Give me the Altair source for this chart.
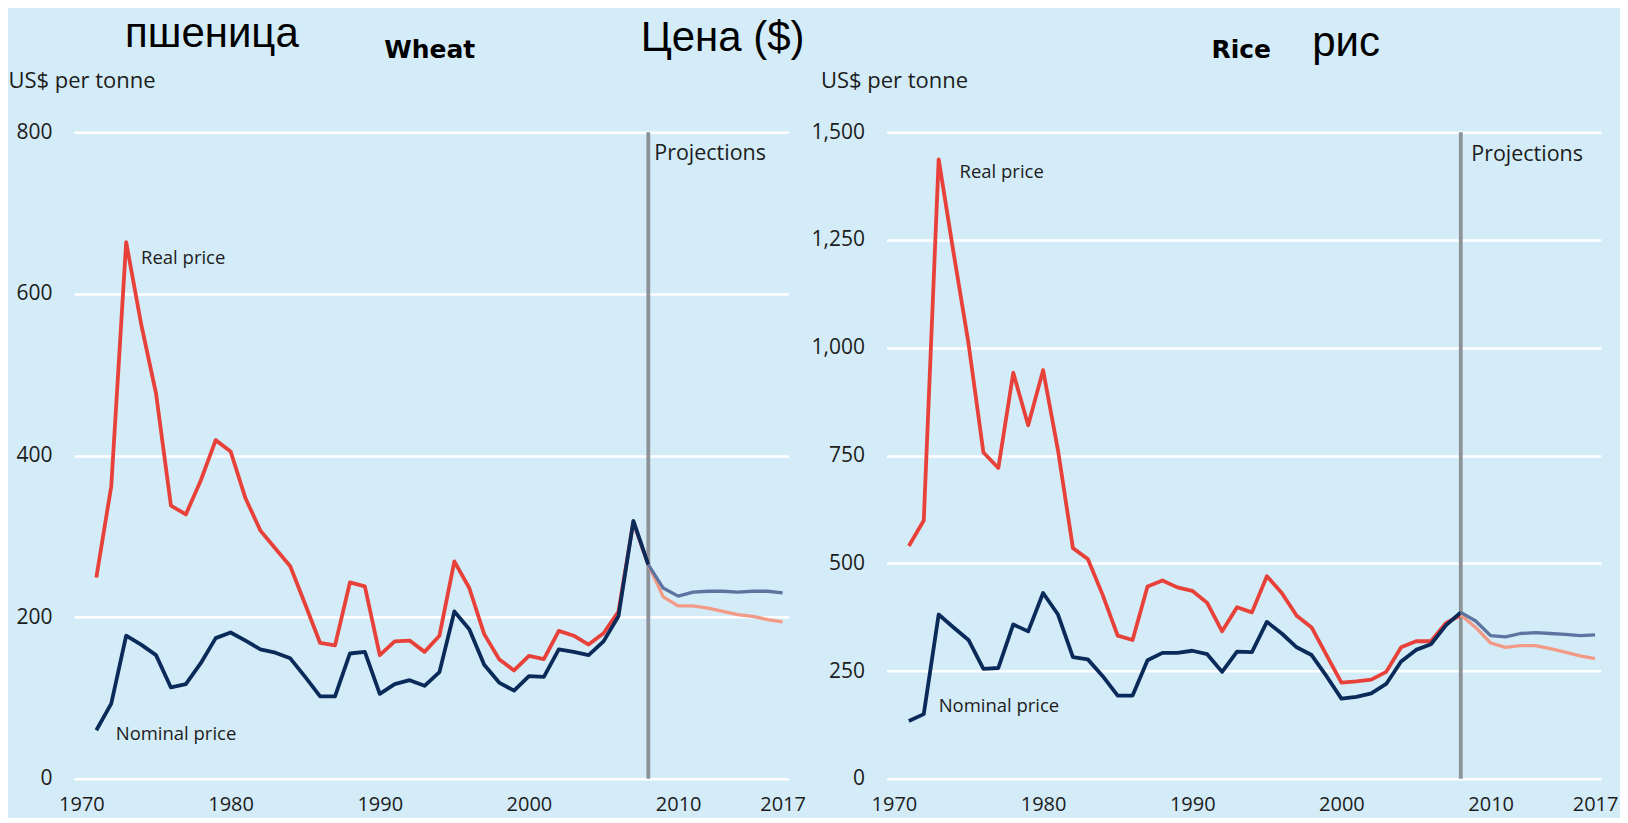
import altair as alt
import pandas as pd

# ---------------- data ----------------
YEARS_HIST = list(range(1971, 2009))
YEARS_PROJ = list(range(2008, 2018))
X_TICKS = [1970, 1980, 1990, 2000, 2010, 2017]

WHEAT_REAL_HIST = [249, 362, 664, 563, 477, 338, 327, 369, 419, 405,
                   347, 307, 285, 263, 216, 168, 165, 243, 238, 153,
                   170, 171, 157, 177, 269, 236, 179, 148, 134, 152,
                   148, 183, 177, 166, 180, 207, 318, 265]
WHEAT_NOM_HIST = [60, 93, 177, 166, 153, 113, 117, 143, 174, 181,
                  171, 160, 156, 149, 126, 102, 102, 155, 157, 105,
                  117, 122, 115, 132, 207, 185, 141, 119, 109, 127,
                  126, 160, 157, 153, 170, 201, 319, 265]
WHEAT_REAL_PROJ = [265, 225, 214, 214, 211, 207, 203, 201, 197, 194]
WHEAT_NOM_PROJ = [265, 236, 226, 231, 232, 232, 231, 232, 232, 230]
WHEAT_TICKS = [0, 200, 400, 600, 800]

RICE_REAL_HIST = [540, 599, 1437, 1220, 1010, 757, 721, 942, 820, 948,
                  762, 535, 510, 426, 332, 322, 446, 460, 444, 436,
                  408, 342, 398, 386, 470, 431, 378, 351, 287, 223,
                  226, 230, 248, 305, 319, 319, 361, 380]
RICE_NOM_HIST = [134, 150, 381, 351, 322, 255, 257, 358, 342, 431,
                 381, 282, 277, 238, 193, 193, 275, 292, 292, 297,
                 289, 248, 295, 294, 364, 337, 305, 287, 238, 186,
                 190, 198, 220, 272, 299, 312, 356, 386]
RICE_REAL_PROJ = [380, 351, 315, 305, 309, 309, 302, 294, 285, 279]
RICE_NOM_PROJ = [386, 366, 332, 329, 337, 339, 337, 335, 332, 334]
RICE_TICKS = [0, 250, 500, 750, 1000, 1250, 1500]

PROJ_START = 2008
Y_TITLE = "US$ per tonne"

# annotation labels: (year, value, text)
WHEAT_NOTES = [(1974.0, 644, "Real price"), (1972.3, 55, "Nominal price")]
WHEAT_PROJ_NOTE = [(2008.4, 773, "Projections")]
RICE_NOTES = [(1974.4, 1408, "Real price"), (1973.0, 168, "Nominal price")]
RICE_PROJ_NOTE = [(2008.7, 1446, "Projections")]

# ---------------- styles ----------------
BG = "#d3ecf8"
COLORS = {"real_hist": "#e8413a", "real_proj": "#f29a85",
          "nom_hist": "#0a2a5a", "nom_proj": "#5d74a0"}
WIDTHS = {"real_hist": 3.8, "real_proj": 3.3, "nom_hist": 3.8, "nom_proj": 3.3}
GRAY = "#8d9298"
TXT = "#1c1c1c"
FONT = "Open Sans"
PW, PH = 715, 647


def panel(real_h, nom_h, real_p, nom_p, ymax, yticks, fmt, notes, proj_note, titles):
    rows = []
    for name, yrs, vals in [("real_hist", YEARS_HIST, real_h), ("nom_hist", YEARS_HIST, nom_h),
                            ("real_proj", YEARS_PROJ, real_p), ("nom_proj", YEARS_PROJ, nom_p)]:
        rows += [{"year": y, "value": v, "series": name} for y, v in zip(yrs, vals)]
    df = pd.DataFrame(rows)

    xs = alt.Scale(domain=[1969.5, 2017.4], nice=False, zero=False)
    ys = alt.Scale(domain=[0, ymax], nice=False)
    xaxis = alt.Axis(values=X_TICKS, format="d", title=None, grid=False, domain=False,
                     ticks=False, labelPadding=16, labelFont=FONT, labelFontSize=20,
                     labelColor=TXT, labelOverlap=False)
    yaxis = alt.Axis(values=yticks, format=fmt, title=Y_TITLE, titleAngle=0, titleAlign="left",
                     titleBaseline="alphabetic", titleX=-66, titleY=-45, titleFont=FONT,
                     titleFontSize=22, titleFontWeight="normal", titleColor=TXT,
                     grid=True, gridColor="white", gridWidth=2.5, domain=False, ticks=False,
                     labelPadding=22, labelFont=FONT, labelFontSize=21, labelColor=TXT)
    X = alt.X("year:Q", scale=xs, axis=xaxis)
    Y = alt.Y("value:Q", scale=ys, axis=yaxis)

    layers = []
    # projection divider
    rule_df = pd.DataFrame({"year": [PROJ_START], "value": [0], "top": [ymax]})
    layers.append(alt.Chart(rule_df).mark_rule(color=GRAY, strokeWidth=3.8).encode(
        x=X, y=Y, y2="top:Q"))
    for s in ["real_hist", "real_proj", "nom_hist", "nom_proj"]:
        layers.append(alt.Chart(df).transform_filter(alt.datum.series == s).mark_line(
            color=COLORS[s], strokeWidth=WIDTHS[s], strokeJoin="round").encode(x=X, y=Y))

    ndf = pd.DataFrame(notes, columns=["year", "value", "label"])
    layers.append(alt.Chart(ndf).mark_text(align="left", baseline="middle", font=FONT,
                                           fontSize=18.5, color=TXT).encode(x=X, y=Y, text="label:N"))
    pdf = pd.DataFrame(proj_note, columns=["year", "value", "label"])
    layers.append(alt.Chart(pdf).mark_text(align="left", baseline="middle", font=FONT,
                                           fontSize=21.5, color=TXT).encode(x=X, y=Y, text="label:N"))

    for text, px, py, font, size, weight in titles:
        layers.append(alt.Chart(pd.DataFrame({"t": [text]})).mark_text(
            align="center", baseline="alphabetic", font=font, fontSize=size,
            fontWeight=weight, color="#000000").encode(
            text="t:N", x=alt.value(px), y=alt.value(py)))

    return alt.layer(*layers).properties(width=PW, height=PH)


left = panel(WHEAT_REAL_HIST, WHEAT_NOM_HIST, WHEAT_REAL_PROJ, WHEAT_NOM_PROJ, 800,
             WHEAT_TICKS, "d", WHEAT_NOTES, WHEAT_PROJ_NOTE,
             [("пшеница", 138, -85, "Liberation Sans", 42, "normal"),
              ("Wheat", 356, -74, "DejaVu Sans", 25, "bold"),
              ("Цена ($)", 649, -81, "Liberation Sans", 42, "normal")])
right = panel(RICE_REAL_HIST, RICE_NOM_HIST, RICE_REAL_PROJ, RICE_NOM_PROJ, 1500,
              RICE_TICKS, ",d", RICE_NOTES, RICE_PROJ_NOTE,
              [("Rice", 355, -74, "DejaVu Sans", 25, "bold"),
               ("рис", 460, -76, "Liberation Sans", 42, "normal")])

chart = alt.hconcat(left, right, spacing=98, bounds="flush").properties(
    padding={"left": 0, "top": 5, "right": 2, "bottom": 3},
    background=BG).configure_view(stroke=None)

chart.save("out.html", embed_options={"renderer": "svg", "actions": False})
